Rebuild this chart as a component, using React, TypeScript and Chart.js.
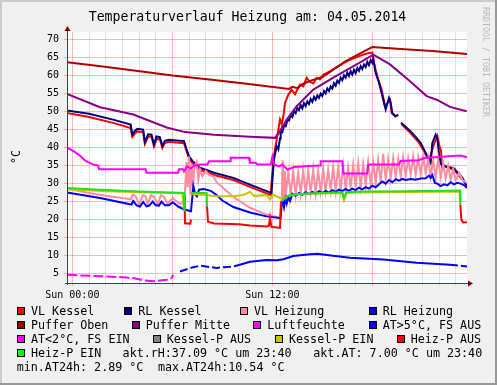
import React, { useEffect, useRef } from 'react';
import { Chart, registerables } from 'chart.js';

Chart.register(...registerables);

type P = [number, number | null];

// ---------------- texts / ticks ----------------
const chartTitle = 'Temperaturverlauf Heizung am: 04.05.2014';
const yUnit = '°C';
const watermark = 'RRDTOOL / TOBI OETIKER';
const xTickHours = [0, 1, 2, 3, 4, 5, 6, 7, 8, 9, 10, 11, 12, 13, 14, 15, 16, 17, 18, 19, 20, 21, 22, 23];
const xTickLabels: { [h: number]: string } = { 0: 'Sun 00:00', 12: 'Sun 12:00' };
const yTickValues = [5, 10, 15, 20, 25, 30, 35, 40, 45, 50, 55, 60, 65, 70];
const xRange = [-0.32, 23.68];
const yRange = [2.4, 72.1];

// ---------------- series (hour, °C) ----------------
const vlKessel: P[] = [
  [-0.32, 49.6], [1.0, 48.5], [2.5, 46.8], [3.5, 45.4], [3.6, 43.0], [3.75, 43.9], [3.9, 44.5], [4.25, 44.3],
  [4.35, 41.0], [4.55, 43.0], [4.75, 43.0], [4.9, 40.3], [5.05, 42.4], [5.25, 42.3], [5.4, 39.9], [5.55, 41.3],
  [5.8, 41.6], [6.7, 41.2], [6.85, 39.0], [7.0, 37.0], [7.2, 35.7], [7.46, 34.7], [7.66, 33.8], [8.5, 32.4],
  [9.66, 31.0], [10.66, 29.1], [11.66, 27.3], [11.9, 26.8], [12.06, 36.7], [12.26, 42.2], [12.46, 47.8],
  [12.56, 46.5], [12.66, 48.7], [12.76, 52.4], [12.96, 54.7], [13.16, 56.1], [13.36, 54.8], [13.66, 57.5],
  [13.86, 57.0], [14.06, 59.4], [14.26, 58.2], [14.46, 57.8], [14.66, 59.4], [14.86, 58.9], [15.06, 60.3],
  [15.26, 60.7], [15.5, 61.3], [15.76, 62.1], [16.06, 62.8], [16.36, 63.7], [16.66, 64.4], [17.0, 65.0],
  [17.44, 65.8], [17.8, 66.3], [18.0, 66.4], [18.08, 64.0], [18.2, 61.5], [18.36, 58.9], [18.56, 56.1],
  [18.76, 51.5], [19.06, 53.3], [19.16, 49.6], [19.36, 48.7], [19.56, 49.0], [19.62, null], [19.76, 46.5],
  [20.26, 44.2], [20.76, 41.6], [21.1, 39.0], [21.4, 36.3], [21.7, 41.0], [21.9, 43.2], [22.05, 40.0],
  [22.12, 39.2], [22.18, 34.5], [22.3, 34.8], [22.9, 33.8], [23.4, 31.2], [23.68, 29.6],
];

const rlKessel: P[] = [
  [-0.32, 50.3], [1.0, 49.4], [2.5, 47.7], [3.5, 46.4], [3.6, 43.6], [3.75, 44.6], [3.9, 45.2], [4.25, 45.0],
  [4.35, 41.6], [4.55, 43.7], [4.75, 43.6], [4.9, 40.9], [5.05, 43.1], [5.25, 42.9], [5.4, 40.5], [5.55, 41.9],
  [5.8, 42.2], [6.7, 41.8], [6.85, 39.6], [7.0, 37.6], [7.2, 36.3], [7.46, 35.3], [7.66, 34.4], [8.5, 33.0],
  [9.66, 31.6], [10.66, 29.7], [11.66, 27.9], [11.95, 27.4], [12.02, 32.0], [12.1, 36.7], [12.26, 40.4],
  [12.36, 39.5], [12.46, 42.5], [12.5, 44.8], [12.6, 44.3], [12.7, 46.0], [12.8, 45.9], [12.9, 47.6],
  [13.0, 47.5], [13.1, 49.0], [13.2, 48.5], [13.3, 50.2], [13.4, 49.6], [13.5, 51.0], [13.6, 50.4],
  [13.7, 51.8], [13.8, 50.9], [13.9, 52.3], [14.0, 51.5], [14.1, 52.8], [14.2, 52.1], [14.3, 53.5],
  [14.4, 52.7], [14.5, 54.1], [14.6, 53.3], [14.7, 54.5], [14.8, 53.8], [14.9, 55.0], [15.0, 54.3],
  [15.1, 55.7], [15.2, 55.0], [15.3, 56.4], [15.4, 55.7], [15.5, 57.0], [15.6, 56.4], [15.7, 57.9],
  [15.8, 57.2], [15.9, 58.6], [16.0, 58.0], [16.1, 59.4], [16.2, 58.7], [16.3, 60.1], [16.4, 59.4],
  [16.5, 60.8], [16.6, 59.9], [16.7, 61.2], [16.8, 60.3], [16.9, 61.6], [17.0, 60.7], [17.1, 62.1],
  [17.2, 61.3], [17.3, 62.6], [17.4, 61.8], [17.5, 63.1], [17.6, 62.4], [17.7, 63.8], [17.8, 62.9],
  [17.9, 64.3], [18.0, 63.5], [18.06, 64.6], [18.2, 60.7], [18.4, 58.0], [18.6, 54.3], [18.8, 50.6],
  [19.0, 53.8], [19.1, 52.5], [19.2, 49.6], [19.4, 48.7], [19.55, 49.2], [19.6, null], [19.72, 46.9],
  [20.0, 45.8], [20.3, 44.5], [20.6, 43.0], [20.9, 41.3], [21.1, 39.4], [21.4, 36.7], [21.5, 35.8],
  [21.6, 41.3], [21.8, 43.6], [21.9, 42.5], [22.0, 38.2], [22.1, 35.5], [22.4, 34.8], [22.9, 34.2],
  [23.4, 31.6], [23.68, 29.3],
];

const vlHeizung: P[] = [
  [-0.32, 28.6], [1.0, 27.4], [2.0, 26.6], [3.0, 26.0], [3.5, 25.6], [3.62, 27.0], [3.8, 26.5], [4.02, 24.2],
  [4.22, 26.8], [4.4, 26.4], [4.52, 24.3], [4.72, 26.8], [4.9, 26.4], [5.12, 24.3], [5.32, 26.8], [5.5, 26.3],
  [5.72, 24.4], [6.02, 26.0], [6.42, 24.5], [6.72, 24.6], [6.85, 36.0], [6.92, 29.0], [7.0, 37.5], [7.08, 27.0],
  [7.16, 35.5], [7.24, 29.0], [7.32, 34.5], [7.46, 36.0], [7.56, 31.0], [7.66, 34.0], [7.8, 32.0], [8.0, 33.5],
  [8.2, 32.4], [8.46, 32.0], [8.66, 30.4], [9.66, 26.3], [10.66, 23.3], [11.66, 21.4], [12.46, 20.5],
  [12.56, 25.0], [12.62, 36.5], [12.68, 26.0], [12.75, 33.5], [12.8, 26.5], [12.95, 33.0], [13.1, 27.0],
  [13.25, 33.5], [13.4, 26.8], [13.55, 33.2], [13.7, 27.2], [13.85, 33.8], [14.0, 27.0], [14.15, 33.5],
  [14.3, 27.6], [14.45, 34.0], [14.6, 27.4], [14.75, 33.6], [14.9, 27.8], [15.05, 34.2], [15.2, 27.9],
  [15.35, 33.8], [15.5, 28.2], [15.65, 34.6], [15.8, 28.0], [15.95, 34.4], [16.1, 28.4], [16.25, 35.0],
  [16.4, 28.6], [16.55, 34.6], [16.7, 29.0], [16.85, 35.2], [17.0, 29.2], [17.15, 35.6], [17.3, 29.0],
  [17.45, 35.4], [17.6, 29.6], [17.75, 36.0], [17.9, 29.8], [18.05, 35.8], [18.2, 30.2], [18.35, 36.6],
  [18.5, 30.4], [18.65, 38.3], [18.8, 31.0], [18.95, 36.8], [19.1, 31.5], [19.25, 37.2], [19.4, 31.8],
  [19.55, 36.8], [19.7, 32.0], [19.85, 37.4], [20.0, 32.2], [20.15, 37.0], [20.3, 32.5], [20.45, 37.6],
  [20.6, 32.4], [20.75, 37.2], [20.9, 32.6], [21.05, 37.5], [21.2, 32.8], [21.35, 37.0], [21.5, 32.0],
  [21.65, 36.5], [21.8, 31.5], [21.95, 36.8], [22.1, 31.8], [22.25, 35.5], [22.4, 31.5], [22.55, 35.0],
  [22.7, 31.0], [22.85, 34.2], [23.0, 30.8], [23.2, 33.0], [23.4, 31.0], [23.68, 30.2],
];

const rlHeizung: P[] = [
  [-0.32, 27.5], [1.66, 26.0], [3.55, 24.2], [3.65, 25.2], [3.85, 24.0], [4.05, 23.6], [4.25, 24.9],
  [4.45, 23.7], [4.62, 23.9], [4.82, 25.0], [5.0, 24.0], [5.2, 23.9], [5.35, 25.0], [5.55, 24.0], [5.8, 24.0],
  [6.02, 24.8], [6.4, 23.5], [6.72, 22.8], [7.12, 22.3], [7.26, 29.3], [7.38, 27.0], [7.48, 26.5], [7.6, 28.3],
  [7.9, 28.5], [8.3, 28.0], [8.66, 26.8], [9.0, 25.3], [9.66, 23.5], [10.66, 22.0], [11.66, 20.9], [12.5, 20.4],
  [12.56, 24.2], [12.62, 25.2], [12.7, 23.4], [12.78, 25.8], [12.86, 24.4], [12.96, 26.2], [13.06, 25.2],
  [13.2, 27.2], [13.4, 26.6], [13.6, 27.4], [13.8, 26.9], [14.0, 27.6], [14.2, 27.1], [14.4, 27.7],
  [14.6, 27.2], [14.8, 27.9], [15.0, 27.4], [15.2, 28.0], [15.4, 27.5], [15.6, 28.2], [15.8, 27.7],
  [16.0, 28.3], [16.2, 27.9], [16.4, 28.5], [16.6, 28.0], [16.8, 28.6], [17.0, 28.2], [17.2, 28.9],
  [17.4, 28.4], [17.6, 29.0], [17.8, 28.6], [18.0, 29.4], [18.2, 29.0], [18.4, 29.8], [18.6, 30.6],
  [18.8, 30.0], [19.0, 31.0], [19.2, 30.4], [19.4, 31.2], [19.6, 30.8], [19.8, 31.3], [20.0, 31.0],
  [20.3, 31.3], [20.6, 31.1], [20.9, 31.4], [21.2, 31.5], [21.4, 32.2], [21.5, 31.6], [21.6, 32.4],
  [21.75, 30.2], [21.9, 30.0], [22.1, 29.3], [22.3, 29.8], [22.5, 29.5], [22.7, 30.4], [22.9, 29.8],
  [23.1, 30.2], [23.3, 30.0], [23.5, 29.6], [23.68, 28.8],
];

const pufferOben: P[] = [
  [-0.32, 63.7], [1.7, 62.6], [3.7, 61.4], [6.0, 60.0], [8.5, 58.8], [10.7, 57.6], [13.0, 56.3], [13.2, 56.9],
  [13.5, 56.5], [13.8, 57.6], [14.3, 58.6], [15.0, 59.6], [15.7, 61.8], [16.4, 64.0], [17.0, 65.5],
  [17.5, 66.7], [18.0, 67.9], [19.7, 67.4], [21.6, 66.8], [23.68, 66.0],
];

const pufferMitte: P[] = [
  [-0.32, 54.9], [1.66, 51.2], [3.66, 49.2], [5.66, 45.6], [6.76, 44.3], [8.5, 43.6], [10.66, 43.0],
  [12.16, 42.7], [12.46, 44.5], [12.86, 47.8], [13.46, 51.5], [14.46, 56.1], [15.66, 59.4], [16.66, 62.1],
  [17.4, 64.0], [18.06, 65.8], [19.06, 63.1], [20.26, 58.4], [21.26, 54.3], [21.86, 53.3], [22.66, 51.3],
  [23.66, 50.1],
];

const luftfeuchte: P[] = [
  [-0.32, 40.0], [0.0, 39.2], [0.4, 38.0], [0.8, 36.3], [1.2, 35.4], [1.55, 35.0], [1.6, 34.0], [4.4, 34.0],
  [4.45, 33.0], [6.35, 33.0], [6.4, 34.0], [6.65, 34.0], [6.7, 33.4], [6.9, 34.8], [7.1, 34.2], [7.3, 35.0],
  [7.66, 35.3], [8.1, 35.3], [8.2, 36.2], [9.46, 36.2], [9.5, 37.2], [10.6, 37.2], [10.65, 35.8], [11.0, 35.8],
  [11.1, 35.3], [11.9, 35.3], [12.0, 37.4], [12.1, 35.3], [12.4, 34.8], [12.6, 35.3], [12.9, 33.9],
  [13.3, 34.6], [14.0, 34.8], [14.86, 35.0], [14.9, 36.2], [16.2, 36.2], [16.25, 32.8], [17.7, 32.8],
  [17.75, 35.3], [19.6, 35.3], [19.7, 36.3], [20.8, 36.5], [21.1, 37.1], [22.6, 37.6], [23.3, 37.8],
  [23.68, 37.3],
];

const atHigh: P[] = [
  [6.46, 5.6], [6.9, 6.3], [7.26, 6.8], [7.66, 7.2], [8.66, 6.6], [9.66, 7.0], [10.0, 7.4], [10.66, 8.3],
  [11.66, 8.8], [12.3, 8.7], [12.66, 9.0], [13.26, 9.9], [14.26, 10.4], [14.7, 10.5], [15.76, 9.9],
  [16.66, 9.4], [18.66, 8.9], [20.66, 8.0], [22.66, 7.5], [23.68, 7.0],
];

const atLow: P[] = [
  [-0.3, 4.7], [0.5, 4.5], [1.66, 4.3], [3.0, 4.0], [3.66, 3.8], [4.3, 3.1], [4.9, 2.9], [5.66, 3.3],
  [5.96, 3.8], [6.06, 4.7],
];

const kesselPAus: P[] = [];

const kesselPEin: P[] = [
  [-0.32, 28.4], [2.0, 27.9], [4.0, 27.6], [6.6, 27.3], [6.7, 22.8], [6.72, null], [7.16, 27.2], [7.66, 26.9],
  [8.06, 26.8], [8.66, 26.5], [9.66, 26.5], [10.3, 26.9], [10.66, 27.7], [10.9, 26.6], [11.66, 26.8],
  [11.86, 25.6], [12.06, 26.9], [12.46, 26.0], [12.66, 25.8], [12.9, 26.5], [13.3, 27.0], [14.0, 27.2],
  [16.2, 27.4], [16.3, 25.4], [16.45, 27.3], [17.0, 27.5], [20.0, 27.7], [23.24, 27.8], [23.27, 24.4],
];

const heizPAus: P[] = [
  [6.73, 26.8], [6.76, 19.0], [7.08, 18.9], [7.12, 20.0], [7.14, null], [8.08, 23.7], [8.14, 19.4],
  [8.5, 18.9], [10.0, 18.7], [10.66, 18.4], [11.66, 18.1], [11.8, 18.3], [11.86, 20.5], [11.95, 18.0],
  [12.46, 17.7], [12.52, 25.1], [12.54, null], [23.28, 24.2], [23.34, 20.0], [23.45, 19.2], [23.68, 19.3],
];

const heizPEin: P[] = [
  [-0.32, 28.8], [1.66, 28.3], [3.62, 27.9], [6.72, 27.4], [6.73, 22.3], [6.74, null], [7.16, 27.0],
  [7.2, 27.4], [8.06, 27.4], [8.08, 23.7], [8.1, null], [12.52, 25.1], [12.7, 25.6], [12.9, 26.5],
  [13.26, 26.9], [14.0, 27.2], [15.0, 27.4], [16.2, 27.6], [16.3, 26.0], [16.45, 27.6], [17.5, 27.8],
  [20.0, 27.9], [23.26, 28.1], [23.28, 24.2],
];

// ---------------- legend ----------------
const legendNames = [
  'VL Kessel', 'RL Kessel', 'VL Heizung', 'RL Heizung',
  'Puffer Oben', 'Puffer Mitte', 'Luftfeuchte', 'AT>5°C, FS AUS',
  'AT<2°C, FS EIN', 'Kessel-P AUS', 'Kessel-P EIN', 'Heiz-P AUS',
  'Heiz-P EIN',
];
const infoTexts = ['akt.rH:37.09 °C um 23:40', 'akt.AT: 7.00 °C um 23:40', 'min.AT24h: 2.89 °C', 'max.AT24h:10.54 °C'];

const seriesData = [
  vlKessel, rlKessel, vlHeizung, rlHeizung, pufferOben, pufferMitte, luftfeuchte,
  atHigh, atLow, kesselPAus, kesselPEin, heizPAus, heizPEin,
];

// ---------------- styles / layout ----------------
const lineColors = [
  '#ff0000', '#000080', '#ff8ca0', '#0000ff', '#b00000', '#880088', '#ff00ff',
  '#0000ff', '#ff00ff', '#808080', '#c8c800', '#ff0000', '#20e020',
];
const boxColors = [
  '#ff0000', '#000080', '#ff8ca0', '#0000ff', '#a00000', '#800080', '#ff00ff',
  '#0000ff', '#ff00ff', '#808080', '#c8c800', '#ff0000', '#00ff00',
];

const W = 497;
const H = 385;
const MONO = '"DejaVu Sans Mono", monospace';
const LEG_FONT = 11.7;
const legendTextX = [31, 138.3, 254, 382.7, 31, 145.7, 267.3, 382.7, 31, 166.7, 289, 410.7, 31];
const legendRowOf = [0, 0, 0, 0, 1, 1, 1, 1, 2, 2, 2, 2, 3];
const rowBaseline = [315, 329, 343, 357, 371];
const infoPos = [[122.6, 3], [313.3, 3], [16.7, 4], [157.9, 4]];

const decoPlugin = {
  id: 'rrdDeco',
  beforeDraw(chart: any) {
    const { ctx, chartArea: a } = chart;
    ctx.save();
    ctx.fillStyle = '#f0f0f0';
    ctx.fillRect(0, 0, W, H);
    ctx.fillStyle = '#cbcbcb';
    ctx.fillRect(0, 0, W, 2);
    ctx.fillRect(0, 0, 2, H);
    ctx.fillStyle = '#999999';
    ctx.fillRect(0, H - 2, W, 2);
    ctx.fillRect(W - 2, 0, 2, H);
    ctx.fillStyle = '#ffffff';
    ctx.fillRect(a.left, a.top, a.right - a.left, a.bottom - a.top);
    ctx.restore();
  },
  afterDraw(chart: any) {
    const { ctx, chartArea: a } = chart;
    ctx.save();
    // axes
    ctx.strokeStyle = '#2c4d43';
    ctx.lineWidth = 1;
    ctx.beginPath();
    ctx.moveTo(a.left + 0.5, a.bottom + 2);
    ctx.lineTo(a.left + 0.5, a.top - 4);
    ctx.moveTo(a.left - 2, a.bottom + 0.5);
    ctx.lineTo(a.right + 4, a.bottom + 0.5);
    ctx.stroke();
    // arrows
    ctx.fillStyle = '#7f0000';
    ctx.beginPath();
    ctx.moveTo(a.left + 0.5, a.top - 6);
    ctx.lineTo(a.left - 2.5, a.top - 1);
    ctx.lineTo(a.left + 3.5, a.top - 1);
    ctx.closePath();
    ctx.fill();
    ctx.beginPath();
    ctx.moveTo(a.right + 6, a.bottom + 0.5);
    ctx.lineTo(a.right + 1, a.bottom - 2.5);
    ctx.lineTo(a.right + 1, a.bottom + 3.5);
    ctx.closePath();
    ctx.fill();

    // title
    ctx.fillStyle = '#000';
    ctx.font = `13.2px ${MONO}`;
    ctx.textAlign = 'center';
    ctx.textBaseline = 'alphabetic';
    ctx.fillText(chartTitle, 247.5, 21);

    // unit label
    ctx.save();
    ctx.translate(20, 157);
    ctx.rotate(-Math.PI / 2);
    ctx.font = `${LEG_FONT}px ${MONO}`;
    ctx.textAlign = 'center';
    ctx.fillText(yUnit, 0, 0);
    ctx.restore();

    // watermark
    ctx.save();
    ctx.translate(483, 7);
    ctx.rotate(Math.PI / 2);
    ctx.font = `8.3px ${MONO}`;
    ctx.fillStyle = '#b8b8b8';
    ctx.textAlign = 'left';
    ctx.fillText(watermark, 0, 0);
    ctx.restore();

    // legend
    ctx.font = `${LEG_FONT}px ${MONO}`;
    ctx.textAlign = 'left';
    legendNames.forEach((name, i) => {
      const tx = legendTextX[i];
      const base = rowBaseline[legendRowOf[i]];
      const bx = Math.round(tx - 14);
      const by = base - 8;
      ctx.fillStyle = boxColors[i];
      ctx.fillRect(bx, by, 8, 8);
      ctx.strokeStyle = '#000';
      ctx.lineWidth = 1;
      ctx.strokeRect(bx + 0.5, by + 0.5, 7, 7);
      ctx.fillStyle = '#000';
      ctx.fillText(name, tx, base);
    });
    infoTexts.forEach((t, i) => {
      ctx.fillText(t, infoPos[i][0], rowBaseline[infoPos[i][1]]);
    });
    ctx.restore();
  },
};

export default function App() {
  const ref = useRef<HTMLCanvasElement | null>(null);
  useEffect(() => {
    document.body.style.margin = '0';
    const datasets = seriesData.map((pts, i) => ({
      label: legendNames[i],
      data: pts.map(([x, y]) => ({ x, y })),
      borderColor: lineColors[i],
      backgroundColor: lineColors[i],
      borderWidth: 2,
      pointRadius: 0,
      tension: 0,
      spanGaps: false,
      fill: false,
      order: -i,
      borderDash: i === 8 ? [10, 3] : [],
      segment:
        i === 7
          ? { borderDash: (c: any) => (c.p0.parsed.x < 9.7 || c.p0.parsed.x > 20.7 ? [8, 3] : undefined) }
          : undefined,
    }));
    const chart = new Chart(ref.current as HTMLCanvasElement, {
      type: 'line',
      data: { datasets } as any,
      options: {
        responsive: false,
        animation: false,
        devicePixelRatio: 1,
        layout: { padding: { left: 0, right: W - 467, top: 32, bottom: 0 } },
        plugins: { legend: { display: false }, title: { display: false }, tooltip: { enabled: false } },
        scales: {
          x: {
            type: 'linear',
            min: xRange[0],
            max: xRange[1],
            afterBuildTicks: (s: any) => {
              s.ticks = xTickHours.map((v) => ({ value: v }));
            },
            afterFit: (s: any) => {
              s.height = H - 283;
            },
            ticks: {
              autoSkip: false,
              maxRotation: 0,
              minRotation: 0,
              padding: 3,
              color: '#000',
              font: { family: MONO, size: 10 },
              callback: (v: any) => xTickLabels[v as number] ?? '',
            },
            grid: {
              color: (c: any) => (c.tick && c.tick.value % 6 === 0 ? 'rgba(255,0,0,0.28)' : 'rgba(150,150,150,0.3)'),
              lineWidth: 1,
              tickLength: 3,
            },
            border: { display: false },
          },
          y: {
            type: 'linear',
            min: yRange[0],
            max: yRange[1],
            afterBuildTicks: (s: any) => {
              s.ticks = yTickValues.map((v) => ({ value: v }));
            },
            afterFit: (s: any) => {
              s.width = 67;
            },
            ticks: {
              padding: 5,
              color: '#000',
              font: { family: MONO, size: 10 },
              callback: (v: any) => String(v),
            },
            grid: { color: 'rgba(255,0,0,0.28)', lineWidth: 1, tickLength: 3 },
            border: { display: false },
          },
        },
      } as any,
      plugins: [decoPlugin],
    });
    return () => chart.destroy();
  }, []);
  return <canvas ref={ref} width={W} height={H} style={{ display: 'block' }} />;
}
